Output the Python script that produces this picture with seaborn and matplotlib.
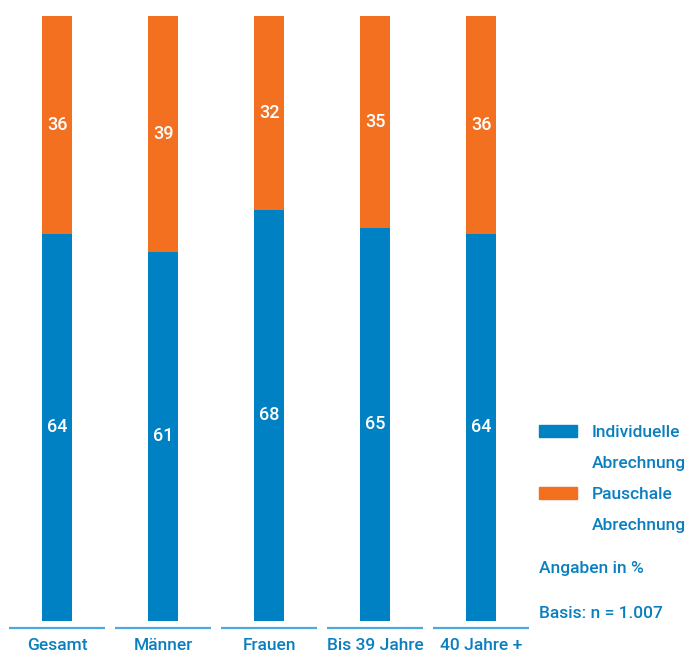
import matplotlib
matplotlib.use("Agg")
import matplotlib.pyplot as plt
import seaborn as sns
import pandas as pd
from matplotlib.patches import Rectangle

categories = ["Gesamt", "Männer", "Frauen", "Bis 39 Jahre", "40 Jahre +"]
individuell = [64, 61, 68, 65, 64]
pauschal = [36, 39, 32, 35, 36]
series_names = ["Individuelle\nAbrechnung", "Pauschale\nAbrechnung"]
notes = ["Angaben in %", "Basis: n = 1.007"]

BLUE = "#0081C4"
ORANGE = "#F37021"
LINE = "#4DAADB"
TEXT = "#0A7FC0"

sns.set_style("white")
plt.rcParams["font.family"] = ["Roboto", "DejaVu Sans"]

df = pd.DataFrame({"cat": categories, "ind": individuell, "pau": pauschal})
df["total"] = df["ind"] + df["pau"]

fig = plt.figure(figsize=(6.99, 6.53), dpi=100)
ax = fig.add_axes([4 / 699, 32 / 653, 530 / 699, 605 / 653])

sns.barplot(data=df, x="cat", y="total", color=ORANGE, width=0.29,
            saturation=1, ax=ax, order=categories, linewidth=0)
sns.barplot(data=df, x="cat", y="ind", color=BLUE, width=0.29,
            saturation=1, ax=ax, order=categories, linewidth=0)

for i, (a, b) in enumerate(zip(individuell, pauschal)):
    ax.text(i, a / 2, str(a), color="white", ha="center", va="center",
            fontsize=13, fontweight="medium")
    ax.text(i, a + b / 2, str(b), color="white", ha="center", va="center",
            fontsize=13, fontweight="medium")
    ax.plot([i - 0.45, i + 0.45], [-1.15, -1.15], color=LINE, lw=1.6,
            clip_on=False, solid_capstyle="butt")

ax.set_xlim(-0.5, len(categories) - 0.5)
ax.set_ylim(0, 100)
ax.set_xlabel("")
ax.set_ylabel("")
ax.set_yticks([])
ax.tick_params(axis="x", length=0, pad=12, labelsize=12.5, labelcolor=TEXT)
for lab in ax.get_xticklabels():
    lab.set_fontweight("medium")
sns.despine(ax=ax, left=True, bottom=True)

# Legend
def fy(px):
    return 1 - px / 653

fig.patches.append(Rectangle((539 / 699, fy(437)), 38 / 699, 12 / 653,
                             transform=fig.transFigure, color=BLUE))
fig.patches.append(Rectangle((539 / 699, fy(499)), 38 / 699, 12 / 653,
                             transform=fig.transFigure, color=ORANGE))
fig.text(592 / 699, fy(448), series_names[0], color=TEXT, fontsize=12.5,
         fontweight="medium", va="center", linespacing=2.4)
fig.text(592 / 699, fy(510), series_names[1], color=TEXT, fontsize=12.5,
         fontweight="medium", va="center", linespacing=2.4)
fig.text(539 / 699, fy(569), notes[0], color=TEXT, fontsize=12.5,
         fontweight="medium", va="center")
fig.text(539 / 699, fy(614), notes[1], color=TEXT, fontsize=12.5,
         fontweight="medium", va="center")

fig.savefig("out.png", dpi=100)
